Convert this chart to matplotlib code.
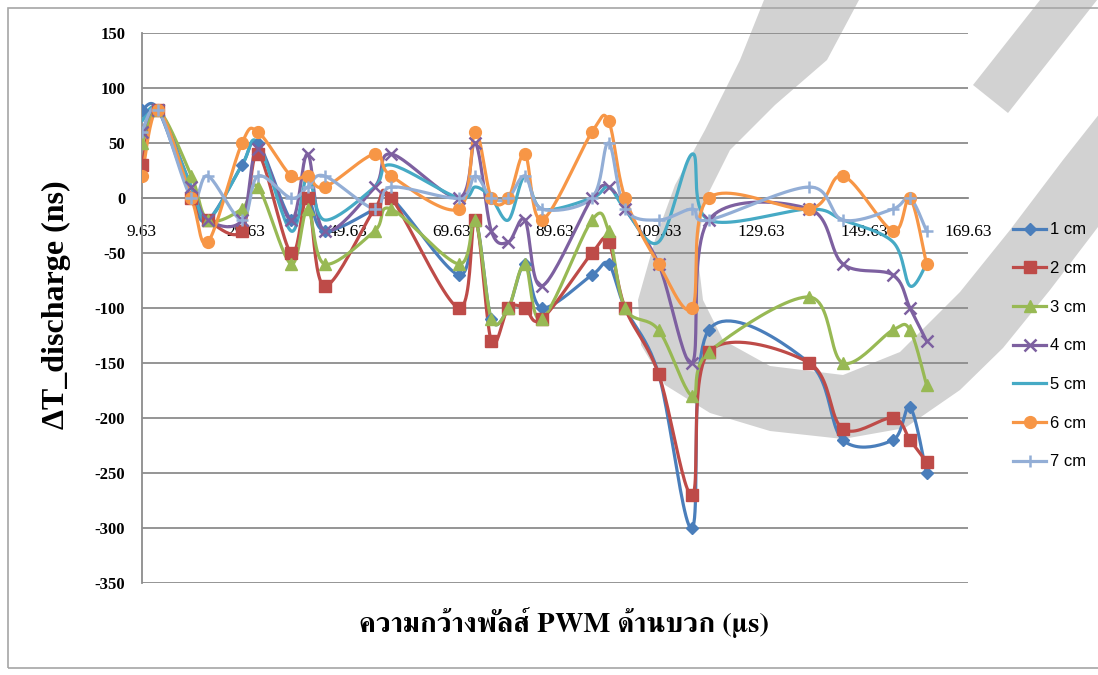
import numpy as np
import matplotlib
matplotlib.use("Agg")
import matplotlib.pyplot as plt
from matplotlib import font_manager
from matplotlib.ft2font import FT2Font
from matplotlib.patches import Polygon, Rectangle
from matplotlib.lines import Line2D

# pulse width (us) of each measurement
pulse_width = [9.63, 12.8, 19.2, 22.4, 29.0, 32.1, 38.5, 41.7, 45.0, 54.7,
               57.9, 71.0, 74.2, 77.3, 80.6, 83.8, 87.1, 96.8, 100.0, 103.2,
               109.7, 116.2, 119.4, 138.9, 145.4, 155.1, 158.4, 161.6]

# delta T discharge (ns) for each probe distance
dt_1cm = [80, 80, 0, -20, 30, 50, -20, 0, -30, -10, 0, -70, -20, -110, -100,
          -60, -100, -70, -60, -100, -160, -300, -120, -150, -220, -220, -190, -250]
dt_2cm = [30, 80, 0, -20, -30, 40, -50, 0, -80, -10, 0, -100, -20, -130, -100,
          -100, -110, -50, -40, -100, -160, -270, -140, -150, -210, -200, -220, -240]
dt_3cm = [50, 80, 20, -20, -10, 10, -60, -10, -60, -30, -10, -60, -20, -110, -100,
          -60, -110, -20, -30, -100, -120, -180, -140, -90, -150, -120, -120, -170]
dt_4cm = [60, 80, 10, -20, -20, 45, -20, 40, -30, 10, 40, 0, 50, -30, -40,
          -20, -80, 0, 10, -10, -60, -150, -20, -10, -60, -70, -100, -130]
dt_5cm = [70, 80, 10, -20, 30, 50, -30, 20, -20, 10, 30, 0, 10, 0, -20,
          20, -10, 0, 10, -10, -40, 40, -20, -10, -20, -40, -80, -60]
dt_6cm = [20, 80, 0, -40, 50, 60, 20, 20, 10, 40, 20, -10, 60, 0, 0,
          40, -20, 60, 70, 0, -60, -100, 0, -10, 20, -30, 0, -60]
dt_7cm = [60, 80, 0, 20, -20, 20, 0, 10, 20, -10, 10, 0, 20, 0, 0,
          20, -10, 0, 50, -10, -20, -10, -20, 10, -20, -10, 0, -30]

series_names = ["1 cm", "2 cm", "3 cm", "4 cm", "5 cm", "6 cm", "7 cm"]
x_ticks = [9.63, 29.63, 49.63, 69.63, 89.63, 109.63, 129.63, 149.63, 169.63]
y_ticks = [-350, -300, -250, -200, -150, -100, -50, 0, 50, 100, 150]

colors = ["#4A7EBB", "#BE4B48", "#98B954", "#7D60A0", "#46AAC5", "#F79646", "#93AED6"]
markers = ["D", "s", "^", "x", None, "o", "+"]
msizes = [6.5, 8, 8, 8, 0, 8.5, 8]

W, H = 1098, 675
XMIN, XMAX, YMIN, YMAX = 9.63, 169.63, -350, 150
AX_L, AX_R, AX_T, AX_B = 142, 968, 33, 583

plt.rcParams["axes.unicode_minus"] = False


def find_thai_font():
    # first installed family that can draw Thai text
    found = []
    for f in font_manager.fontManager.ttflist:
        try:
            if 0x0E04 in FT2Font(f.fname).get_charmap():
                found.append(f.name)
        except Exception:
            pass
    for name in found:
        if "Serif" in name:
            return name
    return found[0] if found else None


def smooth(xs, ys, steps=24):
    # Excel style smoothed line: bezier segments, handles at 1/6 of neighbour span
    sx = (AX_R - AX_L) / (XMAX - XMIN)
    sy = (AX_B - AX_T) / (YMAX - YMIN)
    p = np.column_stack([np.asarray(xs, float) * sx, np.asarray(ys, float) * sy])
    n = len(p)
    out = [p[0]]
    t = np.linspace(0, 1, steps)[1:, None]
    for i in range(n - 1):
        p0 = p[max(i - 1, 0)]
        p1, p2 = p[i], p[i + 1]
        p3 = p[min(i + 2, n - 1)]
        c1 = p1 + (p2 - p0) / 6.0
        c2 = p2 - (p3 - p1) / 6.0
        seg = ((1 - t) ** 3) * p1 + 3 * ((1 - t) ** 2) * t * c1 + 3 * (1 - t) * t ** 2 * c2 + t ** 3 * p2
        out.extend(seg)
    out = np.array(out)
    return out[:, 0] / sx, out[:, 1] / sy


thai = find_thai_font()
serif = ["Liberation Serif", "DejaVu Serif"]

fig = plt.figure(figsize=(W / 100, H / 100), dpi=100)
fig.patch.set_facecolor("white")


def fx(x):
    return x / W


def fy(y):
    return 1 - y / H


# grey logo behind the chart
outer = [(745, -30), (764, 0), (740, 60), (705, 130), (675, 185), (655, 240),
         (638, 300), (641, 345), (665, 385), (710, 413), (770, 431), (843, 439),
         (905, 428), (960, 390), (1003, 348), (1050, 290), (1130, 185)]
inner = [(1130, 75), (1063, 160), (1010, 230), (960, 292), (900, 352), (843, 375),
         (770, 366), (723, 340), (703, 300), (697, 250), (705, 200), (730, 150),
         (775, 105), (827, 60), (875, -30)]
fig.patches.append(Polygon([(fx(x), fy(y)) for x, y in outer + inner], closed=True,
                           transform=fig.transFigure, facecolor="#D2D2D2",
                           edgecolor="none", zorder=-5))
stripe = [(1044, -5), (973, 85), (1008, 113), (1101, -5)]
fig.patches.append(Polygon([(fx(x), fy(y)) for x, y in stripe], closed=True,
                           transform=fig.transFigure, facecolor="#D2D2D2",
                           edgecolor="none", zorder=-5))

# chart border
fig.patches.append(Rectangle((fx(8), fy(668)), fx(1130) - fx(8), fy(8) - fy(668),
                             transform=fig.transFigure, fill=False,
                             edgecolor="#A6A6A6", lw=1.2, zorder=-4))

ax = fig.add_axes([fx(AX_L), fy(AX_B), fx(AX_R) - fx(AX_L), fy(AX_T) - fy(AX_B)])
ax.set_facecolor("none")
ax.set_xlim(XMIN, XMAX)
ax.set_ylim(YMIN, YMAX)

ax.set_yticks(y_ticks)
ax.set_xticks(x_ticks)
ax.set_xticklabels([f"{v:.2f}" for v in x_ticks])
ax.yaxis.grid(True, color="#8C8C8C", lw=1.3)
ax.set_axisbelow(True)
for s in ("top", "right"):
    ax.spines[s].set_visible(False)
ax.spines["left"].set_color("#8C8C8C")
ax.spines["left"].set_linewidth(1.3)
ax.spines["bottom"].set_position(("data", 0))
ax.spines["bottom"].set_color("#8C8C8C")
ax.spines["bottom"].set_linewidth(1.3)
ax.tick_params(axis="y", length=0, pad=12)
ax.tick_params(axis="x", length=0, pad=19)
for lab in ax.get_yticklabels():
    lab.set_fontfamily(serif)
    lab.set_fontweight("bold")
    lab.set_fontsize(12)
for lab in ax.get_xticklabels():
    lab.set_fontfamily(serif)
    lab.set_fontsize(12.5)

all_series = [dt_1cm, dt_2cm, dt_3cm, dt_4cm, dt_5cm, dt_6cm, dt_7cm]
handles = []
for vals, name, c, m, ms in zip(all_series, series_names, colors, markers, msizes):
    sxs, sys_ = smooth(pulse_width, vals)
    ax.plot(sxs, sys_, color=c, lw=2.3, solid_capstyle="round", zorder=3)
    if m is not None:
        mew = 1.8 if m in ("x", "+") else 1.0
        ax.plot(pulse_width, vals, ls="none", marker=m, ms=ms, color=c,
                mec=c, mew=mew, zorder=4)
    handles.append(Line2D([], [], color=c, lw=2.3, marker=m, ms=ms,
                          mew=1.8 if m in ("x", "+") else 1.0))

fig.legend(handles, series_names, loc="center left", bbox_to_anchor=(fx(1013), fy(346)),
           frameon=False, handlelength=2.0, handletextpad=0.25, labelspacing=1.42,
           borderpad=0, borderaxespad=0,
           prop={"family": ["Liberation Sans Narrow", "Liberation Sans", "DejaVu Sans"],
                 "size": 12, "stretch": "condensed"})

fig.text(fx(56), fy(305), "\u0394T_discharge (ns)", rotation=90, ha="center", va="center",
         fontsize=23, fontweight="bold", family=serif)

xlabel_family = [thai] + serif if thai else serif
fig.text(fx(564), fy(622), "ความกว้างพัลส์ PWM ด้านบวก (μs)", ha="center", va="center",
         fontsize=20.5, fontweight="bold", family=xlabel_family)

fig.savefig("out.png", dpi=100)
